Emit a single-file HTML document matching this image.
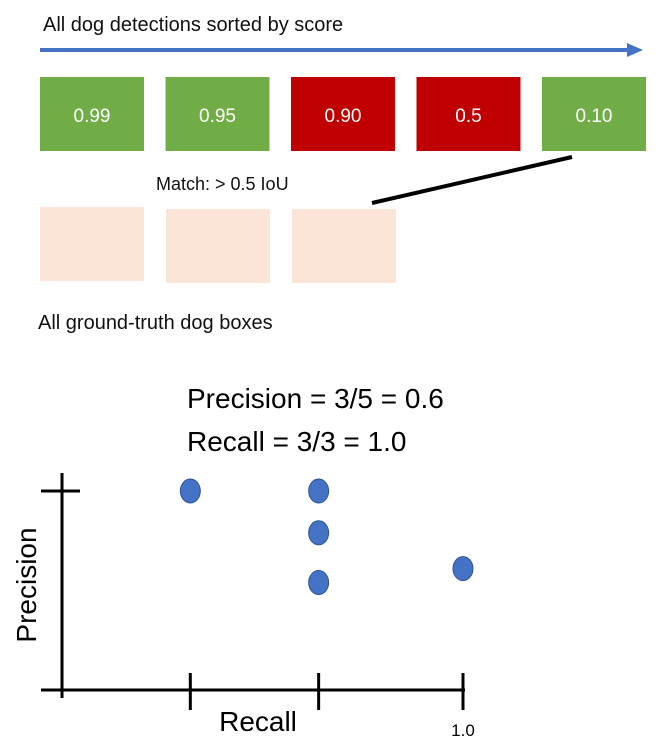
<!DOCTYPE html>
<html><head><meta charset="utf-8"><style>
body{margin:0;background:#fff;width:658px;height:742px;overflow:hidden;font-family:"Liberation Sans",sans-serif}
svg text{font-family:"Liberation Sans",sans-serif}
</style></head><body>
<svg id="c" width="658" height="742" xmlns="http://www.w3.org/2000/svg">
<text x="43" y="31" font-size="20" fill="#111">All dog detections sorted by score</text>
<line x1="40" y1="50" x2="630" y2="50" stroke="#4472c4" stroke-width="4"/>
<polygon points="627,43 643,50 627,57" fill="#4472c4"/>
<g id="dets"></g>
<text x="156" y="190" font-size="18" fill="#111">Match: &gt; 0.5 IoU</text>
<line x1="372" y1="203" x2="572" y2="157" stroke="#000" stroke-width="4"/>
<rect x="40" y="207" width="104" height="74" fill="#fbe5d6"/>
<rect x="166" y="209" width="104" height="74" fill="#fbe5d6"/>
<rect x="292" y="209" width="104" height="74" fill="#fbe5d6"/>
<text x="38" y="329" font-size="20" fill="#111">All ground-truth dog boxes</text>
<text x="187" y="408" font-size="28" fill="#000">Precision = 3/5 = 0.6</text>
<text x="187" y="451" font-size="28" fill="#000">Recall = 3/3 = 1.0</text>
<line x1="62" y1="473" x2="62" y2="698" stroke="#000" stroke-width="3"/>
<line x1="41" y1="491" x2="80" y2="491" stroke="#000" stroke-width="3"/>
<line x1="41" y1="690" x2="465" y2="690" stroke="#000" stroke-width="3"/>
<g id="ticks"></g>
<g id="pts"></g>
<text transform="translate(36,585) rotate(-90)" text-anchor="middle" font-size="28" fill="#000">Precision</text>
<text x="258" y="731" text-anchor="middle" font-size="28" fill="#000">Recall</text>
<text x="463" y="736" text-anchor="middle" font-size="17" fill="#000">1.0</text>
</svg>
<script>
const scores=["0.99","0.95","0.90","0.5","0.10"];
const matched=[true,true,false,false,true];
const recallTicks=[0.32,0.64,1.0];
const recall=[0.32,0.64,0.64,0.64,1.0];
const precision=[1.0,0.79,1.0,0.54,0.61];
const NS="http://www.w3.org/2000/svg";
const xs=r=>62+r*401, ys=p=>690-p*199;
const dets=document.getElementById('dets');
scores.forEach((s,i)=>{
  const x=40+i*125.5;
  const r=document.createElementNS(NS,'rect');
  r.setAttribute('x',x);r.setAttribute('y',77);r.setAttribute('width',104);r.setAttribute('height',74);
  r.setAttribute('fill',matched[i]?'#70ad47':'#c00000');
  
  
  dets.appendChild(r);
  const t=document.createElementNS(NS,'text');
  t.setAttribute('x',x+52);t.setAttribute('y',122);t.setAttribute('text-anchor','middle');
  t.setAttribute('font-size','19');t.setAttribute('fill','#fff');t.textContent=s;
  
  
  dets.appendChild(t);
});
const tk=document.getElementById('ticks');
recallTicks.forEach(v=>{
  const l=document.createElementNS(NS,'line');
  l.setAttribute('x1',xs(v));l.setAttribute('x2',xs(v));l.setAttribute('y1',673);l.setAttribute('y2',710);
  l.setAttribute('stroke','#000');l.setAttribute('stroke-width','3');
  
  
  tk.appendChild(l);
});
const pts=document.getElementById('pts');
recall.forEach((r,i)=>{
  const e=document.createElementNS(NS,'ellipse');
  e.setAttribute('cx',xs(r));e.setAttribute('cy',ys(precision[i]));e.setAttribute('rx',10);e.setAttribute('ry',12);
  e.setAttribute('fill','#4472c4');e.setAttribute('stroke','#2f5597');e.setAttribute('stroke-width','1');
  
  
  pts.appendChild(e);
});
</script>
</body></html>
